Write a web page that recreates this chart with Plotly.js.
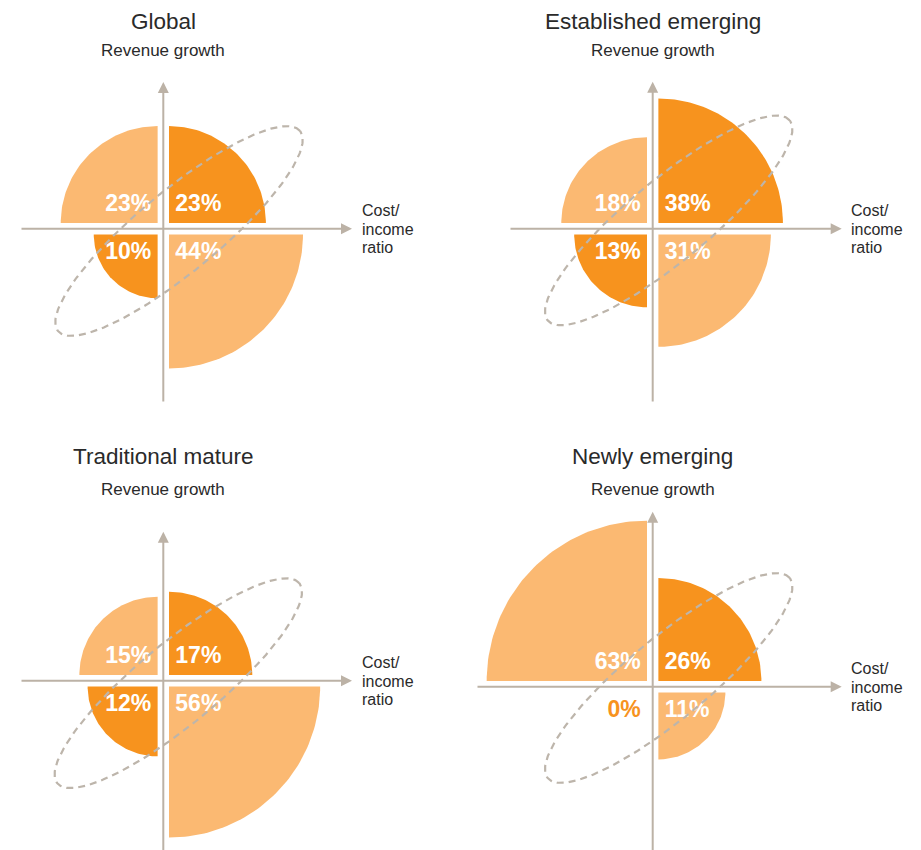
<!DOCTYPE html>
<html>
<head>
<meta charset="utf-8">
<script src="https://cdn.plot.ly/plotly-3.0.1.min.js"></script>
<style>html,body{margin:0;padding:0;background:#fff;}#chart{width:921px;height:850px;}</style>
</head>
<body>
<div id="chart"></div>
<script>
// ---------------- data ----------------
const panelTitles = ["Global", "Established emerging", "Traditional mature", "Newly emerging"];
const upperLeft  = [23, 18, 15, 63];   // share in upper-left quadrant (%)
const upperRight = [23, 38, 17, 26];   // share in upper-right quadrant (%)
const lowerLeft  = [10, 13, 12, 0];    // share in lower-left quadrant (%)
const lowerRight = [44, 31, 56, 11];   // share in lower-right quadrant (%)
const yAxisLabel = "Revenue growth";
const xAxisLabelLines = ["Cost/", "income", "ratio"];

// ---------------- styles / layout constants ----------------
const W = 921, H = 850;
const K = 20.2;          // px per sqrt(percent) -> wedge area proportional to share
const GAP = 5.7;         // px gap between wedges and axis
const DARK = "#F7931E", LIGHT = "#FBB972", AXIS = "#BCB2A6", ELL = "#BDB5AB", TXT = "#2a2a2a";
const FONT = "Liberation Sans, Arial, sans-serif";
const centers = [[163.3, 228.7], [652.7, 228.7], [163.3, 680.7], [652.7, 686.7]];
const boxes = [[0, 460, 0, 425], [460, 921, 0, 425], [0, 460, 425, 850], [460, 921, 425, 850]];
// axis extents in px: [up, down, left, right]
const axExt = [[146.7, 174.3, 143.3, 188.7], [147, 174.3, 143.7, 189], [149, 172, 143.3, 188.7], [175, 166, 176.7, 189]];
// ellipse centre offset in px (x right, y up)
const ellOff = [[15.7, -2.3], [16, 8.3], [15, -2.5], [16, 8.7]];
const titleUp = [207.4, 207.4, 224.7, 230.7];
const rgUp = [178.2, 178.2, 191.2, 197.2];

const u = v => v / K;   // px -> axis units
const traces = [];
const layout = {
  width: W, height: H, margin: {l: 0, r: 0, t: 0, b: 0},
  paper_bgcolor: "#fff", plot_bgcolor: "rgba(0,0,0,0)",
  showlegend: false, annotations: [], font: {family: FONT, color: TXT}
};

function wedge(p, sx, sy) {
  const r = Math.sqrt(p);
  const g = u(GAP);
  const xs = [sx * g], ys = [sy * g];
  for (let k = 0; k <= 60; k++) {
    const t = (Math.PI / 2) * k / 60;
    xs.push(sx * (g + r * Math.cos(t)));
    ys.push(sy * (g + r * Math.sin(t)));
  }
  xs.push(sx * g); ys.push(sy * g);
  return {xs, ys};
}

for (let i = 0; i < 4; i++) {
  const n = i === 0 ? "" : String(i + 1);
  const xa = "x" + n, ya = "y" + n;
  const [cx, cy] = centers[i];
  const [L, R, T, B] = boxes[i];
  layout["xaxis" + n] = {domain: [L / W, R / W], range: [u(L - cx), u(R - cx)], visible: false, fixedrange: true, anchor: ya};
  layout["yaxis" + n] = {domain: [1 - B / H, 1 - T / H], range: [-u(B - cy), u(cy - T)], visible: false, fixedrange: true, anchor: xa};

  const quads = [
    {v: upperRight[i], sx: 1, sy: 1, c: DARK},
    {v: upperLeft[i], sx: -1, sy: 1, c: LIGHT},
    {v: lowerLeft[i], sx: -1, sy: -1, c: DARK},
    {v: lowerRight[i], sx: 1, sy: -1, c: LIGHT}
  ];
  quads.forEach(q => {
    if (q.v <= 0) return;
    const w = wedge(q.v, q.sx, q.sy);
    traces.push({type: "scatter", mode: "lines", x: w.xs, y: w.ys, xaxis: xa, yaxis: ya,
      fill: "toself", fillcolor: q.c, line: {width: 0, color: q.c}, hoverinfo: "skip"});
  });

  // percentage labels
  traces.push({
    type: "scatter", mode: "text", xaxis: xa, yaxis: ya, hoverinfo: "skip",
    x: quads.map(q => q.sx > 0 ? u(12) : u(-12)),
    y: quads.map(q => q.sy > 0 ? u(23.6) : u(-25)),
    text: quads.map(q => q.v + "%"),
    textposition: quads.map(q => q.sx > 0 ? "middle right" : "middle left"),
    textfont: {family: FONT, size: 23, weight: 700, color: quads.map(q => q.v > 0 ? "#ffffff" : q.c)}
  });

  // dashed ellipse
  const a = 157, b = 40.6, th = 39.6 * Math.PI / 180;
  const ex = [], ey = [];
  for (let k = 0; k <= 240; k++) {
    const t = 2 * Math.PI * k / 240;
    const px = ellOff[i][0] + a * Math.cos(t) * Math.cos(th) - b * Math.sin(t) * Math.sin(th);
    const py = ellOff[i][1] + a * Math.cos(t) * Math.sin(th) + b * Math.sin(t) * Math.cos(th);
    ex.push(u(px)); ey.push(u(py));
  }
  traces.push({type: "scatter", mode: "lines", x: ex, y: ey, xaxis: xa, yaxis: ya, hoverinfo: "skip",
    line: {color: ELL, width: 2.2, dash: "7px,5px"}});

  // axes with arrows
  const [up, down, left, right] = axExt[i];
  layout.annotations.push({xref: xa, yref: ya, axref: xa, ayref: ya, x: 0, y: u(up), ax: 0, ay: u(-down),
    text: "", showarrow: true, arrowhead: 2, arrowsize: 1.1, arrowwidth: 2, arrowcolor: AXIS, standoff: 0});
  layout.annotations.push({xref: xa, yref: ya, axref: xa, ayref: ya, x: u(right), y: 0, ax: u(-left), ay: 0,
    text: "", showarrow: true, arrowhead: 2, arrowsize: 1.1, arrowwidth: 2, arrowcolor: AXIS, standoff: 0});

  // titles
  layout.annotations.push({xref: xa, yref: ya, x: 0, y: u(titleUp[i]), text: panelTitles[i], showarrow: false,
    xanchor: "center", yanchor: "middle", font: {family: FONT, size: 22.5, color: TXT}});
  layout.annotations.push({xref: xa, yref: ya, x: 0, y: u(rgUp[i]), text: yAxisLabel, showarrow: false,
    xanchor: "center", yanchor: "middle", font: {family: FONT, size: 17, color: TXT}});
  xAxisLabelLines.forEach((s, j) => {
    layout.annotations.push({xref: xa, yref: ya, x: u(196.7), y: u(18 - 18.6 * j), text: s, showarrow: false,
      xanchor: "left", yanchor: "middle", font: {family: FONT, size: 16, color: TXT}});
  });
}

Plotly.newPlot("chart", traces, layout, {displayModeBar: false, staticPlot: true});
</script>
</body>
</html>
